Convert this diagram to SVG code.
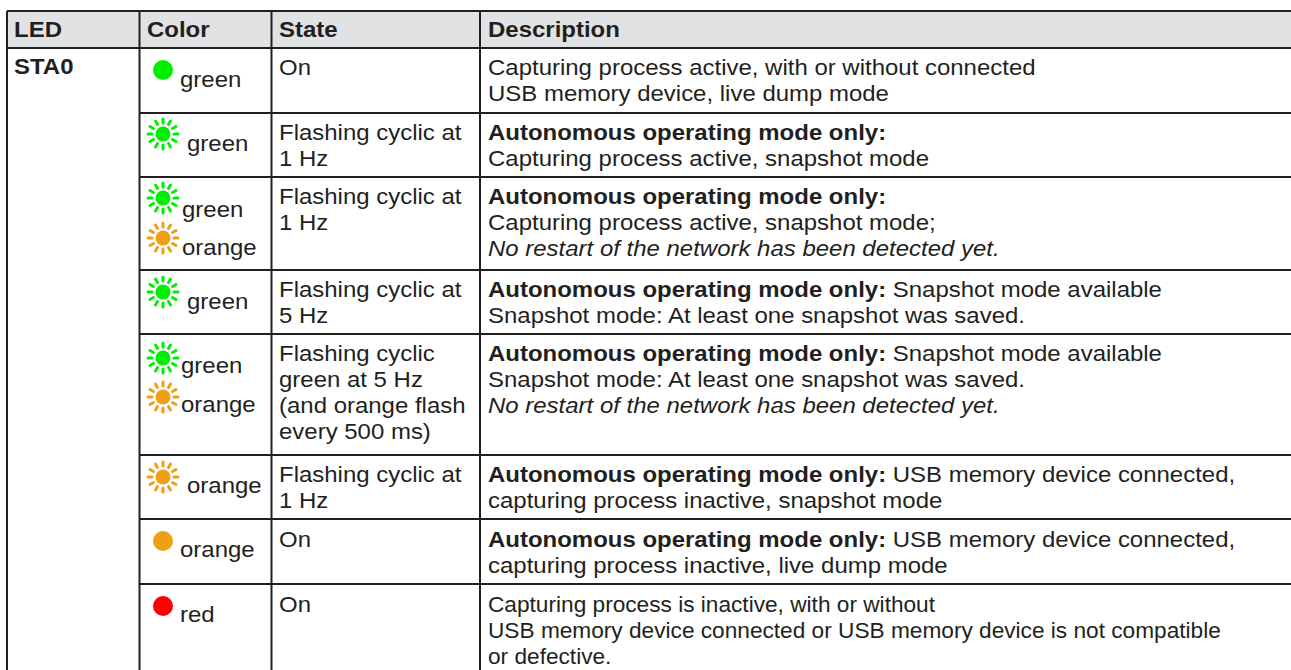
<svg xmlns="http://www.w3.org/2000/svg" xmlns:xlink="http://www.w3.org/1999/xlink" width="1291" height="670" viewBox="0 0 1291 670">
<style>
text{font-family:"Liberation Sans",Arial,sans-serif;font-size:22px;fill:#231f20}
.b{font-weight:bold}
.i{font-style:italic}
.grid{stroke:#231f20;stroke-width:2;fill:none}
</style>
<defs>
<g id="sun">
<circle r="7.5" fill="currentColor"/>
<path d="M11 0H15M9.53 5.5L12.99 7.5M5.5 9.53L7.5 12.99M0 11V15M-5.5 9.53L-7.5 12.99M-9.53 5.5L-12.99 7.5M-11 0H-15M-9.53 -5.5L-12.99 -7.5M-5.5 -9.53L-7.5 -12.99M0 -11V-15M5.5 -9.53L7.5 -12.99M9.53 -5.5L12.99 -7.5" stroke="currentColor" stroke-width="3" stroke-linecap="round" fill="none"/>
</g>
</defs>
<rect width="1291" height="670" fill="#fff"/>
<rect x="7" y="11" width="1290" height="37" fill="#e1e2e4"/>
<g id="grid" class="grid">
<path d="M7 11H1291M7 48H1291M139.5 113H1291M139.5 177H1291M139.5 270H1291M139.5 334H1291M139.5 455H1291M139.5 519H1291M139.5 584H1291"/>
<path d="M7 11V670M139.5 11V670M271.5 11V670M480 11V670"/>
</g>
<g id="header">
<text class="b" transform="translate(14,37) scale(1.09,1)">LED</text>
<text class="b" transform="translate(147,37) scale(1.09,1)">Color</text>
<text class="b" transform="translate(279,37) scale(1.09,1)">State</text>
<text class="b" transform="translate(488,37) scale(1.09,1)">Description</text>
</g>
<g id="led">
<text class="b" transform="translate(14,74) scale(1.09,1)">STA0</text>
</g>
<g id="row1">
<circle cx="163" cy="70" r="10" fill="#00ee00"/>
<text transform="translate(180,87) scale(1.09,1)">green</text>
<text transform="translate(279,75) scale(1.09,1)">On</text>
<text transform="translate(488,75) scale(1.09,1)"><tspan x="0">Capturing process active, with or without connected</tspan><tspan x="0" dy="26">USB memory device, live dump mode</tspan></text>
</g>
<g id="row2">
<use xlink:href="#sun" transform="translate(163,134)" style="color:#00ee00"/>
<text transform="translate(187,151) scale(1.09,1)">green</text>
<text transform="translate(279,140) scale(1.09,1)"><tspan x="0">Flashing cyclic at</tspan><tspan x="0" dy="26">1 Hz</tspan></text>
<text transform="translate(488,140) scale(1.09,1)"><tspan x="0" class="b">Autonomous operating mode only:</tspan><tspan x="0" dy="26">Capturing process active, snapshot mode</tspan></text>
</g>
<g id="row3">
<use xlink:href="#sun" transform="translate(163,198)" style="color:#00ee00"/>
<text transform="translate(182,217) scale(1.09,1)">green</text>
<use xlink:href="#sun" transform="translate(163,238)" style="color:#ef9f14"/>
<text transform="translate(182,255) scale(1.09,1)">orange</text>
<text transform="translate(279,204) scale(1.09,1)"><tspan x="0">Flashing cyclic at</tspan><tspan x="0" dy="26">1 Hz</tspan></text>
<text transform="translate(488,204) scale(1.09,1)"><tspan x="0" class="b">Autonomous operating mode only:</tspan><tspan x="0" dy="26">Capturing process active, snapshot mode;</tspan><tspan x="0" dy="26" class="i">No restart of the network has been detected yet.</tspan></text>
</g>
<g id="row4">
<use xlink:href="#sun" transform="translate(163,292)" style="color:#00ee00"/>
<text transform="translate(187,309) scale(1.09,1)">green</text>
<text transform="translate(279,297) scale(1.09,1)"><tspan x="0">Flashing cyclic at</tspan><tspan x="0" dy="26">5 Hz</tspan></text>
<text transform="translate(488,297) scale(1.09,1)"><tspan x="0"><tspan class="b">Autonomous operating mode only:</tspan> Snapshot mode available</tspan><tspan x="0" dy="26">Snapshot mode: At least one snapshot was saved.</tspan></text>
</g>
<g id="row5">
<use xlink:href="#sun" transform="translate(163,358)" style="color:#00ee00"/>
<text transform="translate(181,373) scale(1.09,1)">green</text>
<use xlink:href="#sun" transform="translate(163,397)" style="color:#ef9f14"/>
<text transform="translate(181,412) scale(1.09,1)">orange</text>
<text transform="translate(279,361) scale(1.09,1)"><tspan x="0">Flashing cyclic</tspan><tspan x="0" dy="26">green at 5 Hz</tspan><tspan x="0" dy="26">(and orange flash</tspan><tspan x="0" dy="26">every 500 ms)</tspan></text>
<text transform="translate(488,361) scale(1.09,1)"><tspan x="0"><tspan class="b">Autonomous operating mode only:</tspan> Snapshot mode available</tspan><tspan x="0" dy="26">Snapshot mode: At least one snapshot was saved.</tspan><tspan x="0" dy="26" class="i">No restart of the network has been detected yet.</tspan></text>
</g>
<g id="row6">
<use xlink:href="#sun" transform="translate(163,477)" style="color:#ef9f14"/>
<text transform="translate(187,493) scale(1.09,1)">orange</text>
<text transform="translate(279,482) scale(1.09,1)"><tspan x="0">Flashing cyclic at</tspan><tspan x="0" dy="26">1 Hz</tspan></text>
<text transform="translate(488,482) scale(1.09,1)"><tspan x="0"><tspan class="b">Autonomous operating mode only:</tspan> USB memory device connected,</tspan><tspan x="0" dy="26">capturing process inactive, snapshot mode</tspan></text>
</g>
<g id="row7">
<circle cx="163" cy="541" r="10" fill="#ef9f14"/>
<text transform="translate(180,557) scale(1.09,1)">orange</text>
<text transform="translate(279,547) scale(1.09,1)">On</text>
<text transform="translate(488,547) scale(1.09,1)"><tspan x="0"><tspan class="b">Autonomous operating mode only:</tspan> USB memory device connected,</tspan><tspan x="0" dy="26">capturing process inactive, live dump mode</tspan></text>
</g>
<g id="row8">
<circle cx="163" cy="606" r="10" fill="#ff0000"/>
<text transform="translate(180,622) scale(1.09,1)">red</text>
<text transform="translate(279,612) scale(1.09,1)">On</text>
<text transform="translate(488,612) scale(1.03,1)"><tspan x="0">Capturing process is inactive, with or without</tspan><tspan x="0" dy="26">USB memory device connected or USB memory device is not compatible</tspan><tspan x="0" dy="26">or defective.</tspan></text>
</g>
</svg>
